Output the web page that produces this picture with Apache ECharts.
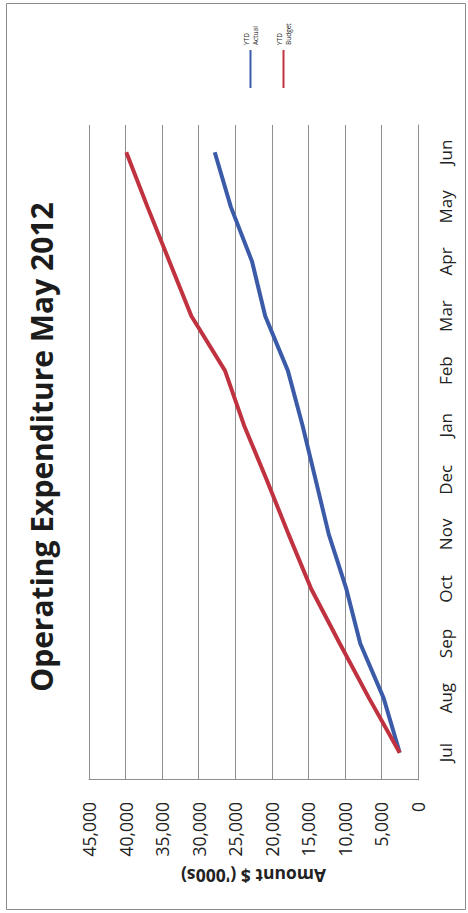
<!DOCTYPE html>
<html>
<head>
<meta charset="utf-8">
<title>Operating Expenditure May 2012</title>
<script src="https://cdn.jsdelivr.net/npm/echarts@6/dist/echarts.min.js"></script>
<style>
  html, body { margin: 0; padding: 0; background: #fff; overflow: hidden; }
  #stage { position: absolute; left: 0; top: 0; width: 468px; height: 913px; overflow: hidden; }
  /* the chart is laid out landscape and turned a quarter turn anticlockwise */
  #chart {
    position: absolute; left: 0; top: 0;
    width: 913px; height: 468px;
    transform-origin: 0 0;
    transform: translate(0, 913px) rotate(-90deg);
  }
</style>
</head>
<body>
<div id="stage"><div id="chart"></div></div>
<script>
// Financial-year months
const months = ['Jul', 'Aug', 'Sep', 'Oct', 'Nov', 'Dec', 'Jan', 'Feb', 'Mar', 'Apr', 'May', 'Jun'];

// Year-to-date totals, $ thousands
const ytdActual = [2500, 4700, 7900, 9800, 12200, 14000, 15800, 17800, 20900, 22700, 25600, 27800];
const ytdBudget = [2500, 6700, 10700, 14600, 17700, 20700, 23800, 26400, 31000, 34000, 37000, 39900];

// Value axis range
const valueMin = 0;
const valueMax = 45000;
const valueStep = 5000;

const FONT = '"Open Sans", "Liberation Sans", sans-serif';
const GRID_GREY = '#8f8f8f';
const TEXT = '#222';
const BLUE = '#3b5ba9';
const RED = '#c0323f';

const chart = echarts.init(document.getElementById('chart'), null, { renderer: 'svg', width: 913, height: 468 });

chart.setOption({
  animation: false,
  backgroundColor: '#fff',
  title: {
    text: 'Operating Expenditure May 2012',
    left: 461,
    textAlign: 'center',
    top: 21,
    textStyle: { fontFamily: FONT, fontSize: 30, fontWeight: 'bold', color: '#1c1c1c' }
  },
  legend: {
    orient: 'vertical',
    left: 820,
    top: 232,
    itemWidth: 38,
    itemHeight: 2,
    itemGap: 6,
    icon: 'rect',
    textStyle: { fontFamily: FONT, fontSize: 6.5, lineHeight: 9, color: TEXT, padding: [9, 0, 0, 0] },
    data: [
      { name: 'YTD\nActual', itemStyle: { color: BLUE } },
      { name: 'YTD\nBudget', itemStyle: { color: RED } }
    ]
  },
  graphic: [{
    type: 'rect',
    shape: { x: 3.5, y: 6.5, width: 906, height: 459 },
    style: { fill: 'none', stroke: '#8a8a8a', lineWidth: 1 },
    silent: true
  }],
  grid: { left: 133, right: 125, top: 89, bottom: 50 },
  xAxis: {
    type: 'category',
    data: months,
    boundaryGap: true,
    axisLine: { show: true, lineStyle: { color: GRID_GREY, width: 1 } },
    axisTick: { show: false },
    axisLabel: { fontFamily: FONT, fontSize: 17, color: TEXT, margin: 19 }
  },
  yAxis: {
    type: 'value',
    min: valueMin,
    max: valueMax,
    interval: valueStep,
    name: "Amount $ ('000s)",
    nameLocation: 'middle',
    nameRotate: 90,
    nameGap: 87,
    nameTextStyle: { fontFamily: FONT, fontSize: 17.5, fontWeight: 'bold', color: TEXT },
    axisLine: { show: true, lineStyle: { color: GRID_GREY, width: 1 } },
    axisTick: { show: false },
    splitLine: { show: true, lineStyle: { color: GRID_GREY, width: 1 } },
    axisLabel: {
      fontFamily: FONT, fontSize: 17.5, color: TEXT, margin: 22,
      formatter: v => v.toLocaleString('en-US')
    }
  },
  series: [
    {
      name: 'YTD\nActual',
      type: 'line',
      data: ytdActual,
      showSymbol: false,
      lineStyle: { color: BLUE, width: 4 },
      itemStyle: { color: BLUE }
    },
    {
      name: 'YTD\nBudget',
      type: 'line',
      data: ytdBudget,
      showSymbol: false,
      lineStyle: { color: RED, width: 4 },
      itemStyle: { color: RED }
    }
  ]
});
</script>
</body>
</html>
